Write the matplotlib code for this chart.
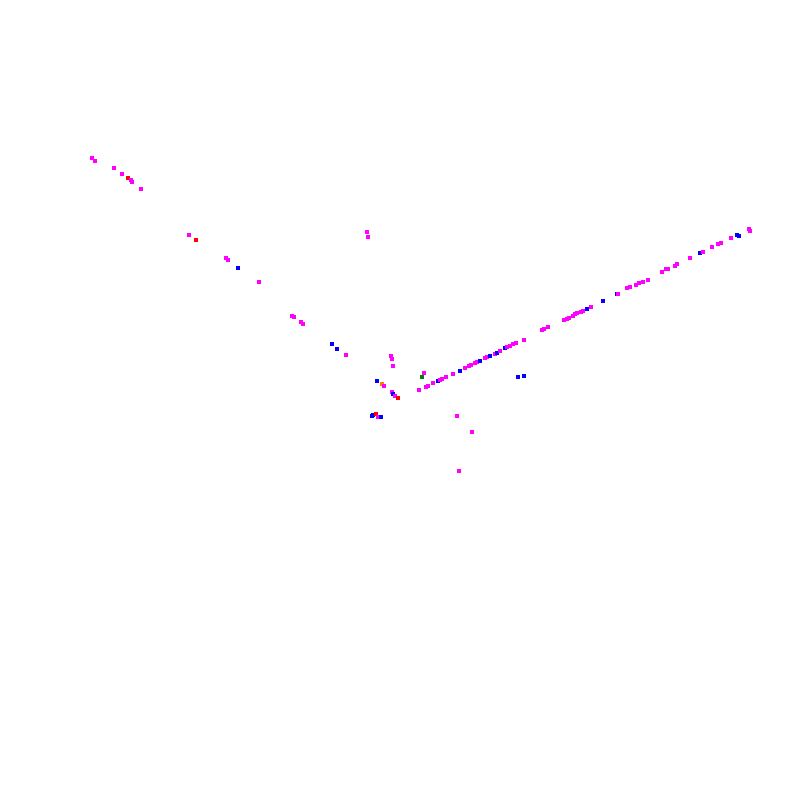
import matplotlib
matplotlib.use('Agg')
import matplotlib.pyplot as plt

# point positions (image-like coordinates)
x = [92, 95, 114, 122, 128, 131, 132, 141,
     189, 196, 226, 228, 238, 259,
     292, 294, 301, 303, 332, 337, 346, 391, 392, 393,
     377, 382, 384, 392, 393, 395, 398,
     367, 368,
     424, 422, 419, 426, 428, 433, 438, 440, 442, 446, 453, 460, 465, 469,
     471, 475, 477, 480, 485, 487, 490, 495, 497, 500, 505, 507, 510, 513,
     516, 524, 518, 524,
     542, 544, 548, 564, 567, 569, 573, 575, 577, 581, 583, 587, 591, 603,
     617, 618, 627, 630, 636, 639, 643, 648,
     662, 666, 668, 675, 677, 690, 700, 703, 712, 718, 721, 731, 737, 739,
     749, 750,
     373, 376, 372, 378, 381, 457, 472, 459]
y = [158, 161, 168, 174, 178, 180, 182, 189,
     235, 240, 258, 260, 268, 282,
     316, 317, 322, 324, 344, 349, 355, 356, 359, 366,
     381, 384, 386, 392, 394, 396, 398,
     232, 237,
     373, 377, 390, 387, 386, 383, 381, 380, 379, 377, 374, 371, 368, 366,
     365, 363, 362, 361, 358, 357, 356, 354, 353, 351, 348, 347, 346, 344,
     343, 340, 377, 376,
     330, 329, 327, 320, 319, 318, 316, 314, 313, 312, 311, 309, 307, 301,
     294, 294, 288, 287, 285, 283, 282, 280,
     272, 269, 269, 266, 264, 258, 253, 252, 247, 244, 243, 238, 235, 236,
     229, 231,
     415, 414, 416, 417, 417, 416, 432, 471]
group = ['m', 'm', 'm', 'm', 'r', 'm', 'm', 'm',
         'm', 'r', 'm', 'm', 'b', 'm',
         'm', 'm', 'm', 'm', 'b', 'b', 'm', 'm', 'm', 'm',
         'b', 'o', 'm', 'm', 'b', 'm', 'r',
         'm', 'm',
         'm', 'g', 'm', 'm', 'm', 'm', 'b', 'm', 'm', 'm', 'm', 'b', 'm', 'm',
         'm', 'm', 'm', 'b', 'm', 'm', 'b', 'm', 'b', 'm', 'b', 'm', 'm', 'm',
         'm', 'm', 'b', 'b',
         'm', 'm', 'm', 'm', 'm', 'm', 'm', 'm', 'm', 'm', 'm', 'b', 'm', 'b',
         'b', 'm', 'm', 'm', 'm', 'm', 'm', 'm',
         'm', 'm', 'm', 'm', 'm', 'm', 'b', 'm', 'm', 'm', 'm', 'm', 'b', 'b',
         'm', 'm',
         'b', 'r', 'b', 'm', 'b', 'm', 'm', 'm']

palette = {'m': '#ff00ff', 'b': '#0000ff', 'r': '#ff0000',
           'o': '#ff7f00', 'g': '#008000'}
colors = [palette[g] for g in group]

fig = plt.figure(figsize=(8, 8), dpi=100)
ax = fig.add_axes([0, 0, 1, 1])
ax.scatter(x, y, c=colors, s=7, marker='s', linewidths=0)
ax.set_xlim(0, 800)
ax.set_ylim(800, 0)
ax.axis('off')
fig.savefig('out.png', dpi=100, facecolor='white')
